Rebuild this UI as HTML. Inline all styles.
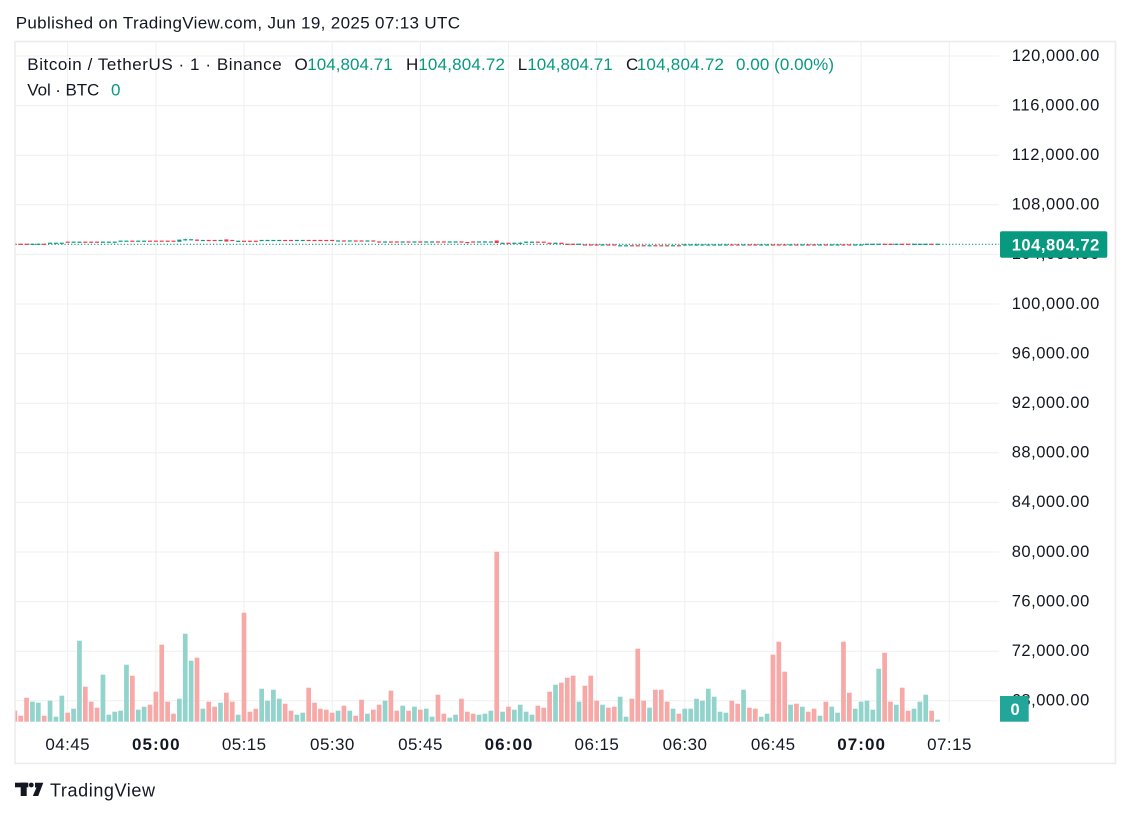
<!DOCTYPE html>
<html><head><meta charset="utf-8"><style>
html,body{margin:0;padding:0;background:#fff;}
svg{display:block;}
text{font-family:"Liberation Sans",sans-serif;}
</style></head><body>
<svg width="1131" height="817" viewBox="0 0 1131 817" xmlns="http://www.w3.org/2000/svg">
<defs><clipPath id="plot"><rect x="15.5" y="42" width="983.5" height="680"/></clipPath></defs>
<rect width="1131" height="817" fill="#fff"/>
<text x="15.7" y="28.3" font-size="17" fill="#131722" textLength="444.3">Published on TradingView.com, Jun 19, 2025 07:13 UTC</text>
<rect x="15" y="41.5" width="1100.5" height="722" fill="none" stroke="#ececec" stroke-width="1.6"/>
<g stroke="#efefef" stroke-width="1">
<line x1="15" x2="999" y1="56" y2="56"/><line x1="15" x2="999" y1="105.6" y2="105.6"/><line x1="15" x2="999" y1="155.2" y2="155.2"/><line x1="15" x2="999" y1="204.8" y2="204.8"/><line x1="15" x2="999" y1="254.4" y2="254.4"/><line x1="15" x2="999" y1="304" y2="304"/><line x1="15" x2="999" y1="353.6" y2="353.6"/><line x1="15" x2="999" y1="403.2" y2="403.2"/><line x1="15" x2="999" y1="452.8" y2="452.8"/><line x1="15" x2="999" y1="502.4" y2="502.4"/><line x1="15" x2="999" y1="552" y2="552"/><line x1="15" x2="999" y1="601.6" y2="601.6"/><line x1="15" x2="999" y1="651.2" y2="651.2"/><line x1="15" x2="999" y1="700.8" y2="700.8"/>
<line x1="67.7" x2="67.7" y1="42" y2="722"/><line x1="155.86" x2="155.86" y1="42" y2="722"/><line x1="244.02" x2="244.02" y1="42" y2="722"/><line x1="332.18" x2="332.18" y1="42" y2="722"/><line x1="420.34" x2="420.34" y1="42" y2="722"/><line x1="508.5" x2="508.5" y1="42" y2="722"/><line x1="596.66" x2="596.66" y1="42" y2="722"/><line x1="684.82" x2="684.82" y1="42" y2="722"/><line x1="772.98" x2="772.98" y1="42" y2="722"/><line x1="861.14" x2="861.14" y1="42" y2="722"/><line x1="949.3" x2="949.3" y1="42" y2="722"/>
</g>
<g clip-path="url(#plot)">
<g transform="translate(8.93,721.7) scale(5.877,-1)">
<g fill="#92d3cc">
<rect x="3.6" width="0.8" height="20"/><rect x="4.6" width="0.8" height="19"/><rect x="6.6" width="0.8" height="21"/><rect x="7.6" width="0.8" height="5"/><rect x="8.6" width="0.8" height="26"/><rect x="10.6" width="0.8" height="13"/><rect x="11.6" width="0.8" height="81"/><rect x="15.6" width="0.8" height="47"/><rect x="16.6" width="0.8" height="7"/><rect x="17.6" width="0.8" height="10"/><rect x="18.6" width="0.8" height="11"/><rect x="19.6" width="0.8" height="57"/><rect x="21.6" width="0.8" height="12"/><rect x="22.6" width="0.8" height="15"/><rect x="28.6" width="0.8" height="23"/><rect x="29.6" width="0.8" height="88"/><rect x="30.6" width="0.8" height="61"/><rect x="32.6" width="0.8" height="13"/><rect x="35.6" width="0.8" height="19"/><rect x="38.6" width="0.8" height="7"/><rect x="42.6" width="0.8" height="33"/><rect x="43.6" width="0.8" height="21"/><rect x="44.6" width="0.8" height="32"/><rect x="45.6" width="0.8" height="23"/><rect x="48.6" width="0.8" height="7"/><rect x="49.6" width="0.8" height="9"/><rect x="55.6" width="0.8" height="11"/><rect x="57.6" width="0.8" height="11"/><rect x="60.6" width="0.8" height="8"/><rect x="63.6" width="0.8" height="21"/><rect x="66.6" width="0.8" height="16"/><rect x="68.6" width="0.8" height="15"/><rect x="70.6" width="0.8" height="13"/><rect x="71.6" width="0.8" height="5"/><rect x="74.6" width="0.8" height="4"/><rect x="75.6" width="0.8" height="7"/><rect x="79.6" width="0.8" height="7"/><rect x="80.6" width="0.8" height="8"/><rect x="81.6" width="0.8" height="11"/><rect x="83.6" width="0.8" height="10"/><rect x="85.6" width="0.8" height="12"/><rect x="86.6" width="0.8" height="17"/><rect x="87.6" width="0.8" height="10"/><rect x="88.6" width="0.8" height="7"/><rect x="92.6" width="0.8" height="37"/><rect x="96.6" width="0.8" height="20"/><rect x="100.6" width="0.8" height="17"/><rect x="103.6" width="0.8" height="25"/><rect x="104.6" width="0.8" height="5"/><rect x="108.6" width="0.8" height="14"/><rect x="112.6" width="0.8" height="13"/><rect x="114.6" width="0.8" height="13"/><rect x="115.6" width="0.8" height="13"/><rect x="116.6" width="0.8" height="23"/><rect x="117.6" width="0.8" height="21"/><rect x="118.6" width="0.8" height="33"/><rect x="119.6" width="0.8" height="25"/><rect x="120.6" width="0.8" height="10"/><rect x="121.6" width="0.8" height="9"/><rect x="124.6" width="0.8" height="32"/><rect x="127.6" width="0.8" height="5"/><rect x="128.6" width="0.8" height="8"/><rect x="132.6" width="0.8" height="17"/><rect x="134.6" width="0.8" height="15"/><rect x="137.6" width="0.8" height="6"/><rect x="139.6" width="0.8" height="15"/><rect x="140.6" width="0.8" height="9"/><rect x="143.6" width="0.8" height="13"/><rect x="144.6" width="0.8" height="20"/><rect x="145.6" width="0.8" height="21"/><rect x="146.6" width="0.8" height="12"/><rect x="147.6" width="0.8" height="53"/><rect x="150.6" width="0.8" height="17"/><rect x="153.6" width="0.8" height="13"/><rect x="154.6" width="0.8" height="20"/><rect x="155.6" width="0.8" height="27"/><rect x="157.6" width="0.8" height="2"/>
</g>
<g fill="#f7a9a7">
<rect x="0.6" width="0.8" height="11"/><rect x="1.6" width="0.8" height="6"/><rect x="2.6" width="0.8" height="24"/><rect x="5.6" width="0.8" height="6"/><rect x="9.6" width="0.8" height="9"/><rect x="12.6" width="0.8" height="35"/><rect x="13.6" width="0.8" height="20"/><rect x="14.6" width="0.8" height="14"/><rect x="20.6" width="0.8" height="46"/><rect x="23.6" width="0.8" height="17"/><rect x="24.6" width="0.8" height="30"/><rect x="25.6" width="0.8" height="77"/><rect x="26.6" width="0.8" height="20"/><rect x="27.6" width="0.8" height="8"/><rect x="31.6" width="0.8" height="64"/><rect x="33.6" width="0.8" height="20"/><rect x="34.6" width="0.8" height="15"/><rect x="36.6" width="0.8" height="29"/><rect x="37.6" width="0.8" height="20"/><rect x="39.6" width="0.8" height="109"/><rect x="40.6" width="0.8" height="10"/><rect x="41.6" width="0.8" height="13"/><rect x="46.6" width="0.8" height="18"/><rect x="47.6" width="0.8" height="11"/><rect x="50.6" width="0.8" height="34"/><rect x="51.6" width="0.8" height="19"/><rect x="52.6" width="0.8" height="13"/><rect x="53.6" width="0.8" height="12"/><rect x="54.6" width="0.8" height="9"/><rect x="56.6" width="0.8" height="16"/><rect x="58.6" width="0.8" height="6"/><rect x="59.6" width="0.8" height="22"/><rect x="61.6" width="0.8" height="12"/><rect x="62.6" width="0.8" height="17"/><rect x="64.6" width="0.8" height="31"/><rect x="65.6" width="0.8" height="11"/><rect x="67.6" width="0.8" height="11"/><rect x="69.6" width="0.8" height="12"/><rect x="72.6" width="0.8" height="27"/><rect x="73.6" width="0.8" height="8"/><rect x="76.6" width="0.8" height="23"/><rect x="77.6" width="0.8" height="10"/><rect x="78.6" width="0.8" height="8"/><rect x="82.6" width="0.8" height="170"/><rect x="84.6" width="0.8" height="15"/><rect x="89.6" width="0.8" height="16"/><rect x="90.6" width="0.8" height="14"/><rect x="91.6" width="0.8" height="30"/><rect x="93.6" width="0.8" height="39"/><rect x="94.6" width="0.8" height="44"/><rect x="95.6" width="0.8" height="46"/><rect x="97.6" width="0.8" height="36"/><rect x="98.6" width="0.8" height="46"/><rect x="99.6" width="0.8" height="21"/><rect x="101.6" width="0.8" height="14"/><rect x="102.6" width="0.8" height="15"/><rect x="105.6" width="0.8" height="23"/><rect x="106.6" width="0.8" height="73"/><rect x="107.6" width="0.8" height="21"/><rect x="109.6" width="0.8" height="32"/><rect x="110.6" width="0.8" height="32"/><rect x="111.6" width="0.8" height="20"/><rect x="113.6" width="0.8" height="8"/><rect x="122.6" width="0.8" height="21"/><rect x="123.6" width="0.8" height="18"/><rect x="125.6" width="0.8" height="14"/><rect x="126.6" width="0.8" height="13"/><rect x="129.6" width="0.8" height="67"/><rect x="130.6" width="0.8" height="80"/><rect x="131.6" width="0.8" height="50"/><rect x="133.6" width="0.8" height="18"/><rect x="135.6" width="0.8" height="10"/><rect x="136.6" width="0.8" height="13"/><rect x="138.6" width="0.8" height="20"/><rect x="141.6" width="0.8" height="80"/><rect x="142.6" width="0.8" height="29"/><rect x="148.6" width="0.8" height="69"/><rect x="149.6" width="0.8" height="20"/><rect x="151.6" width="0.8" height="34"/><rect x="152.6" width="0.8" height="11"/><rect x="156.6" width="0.8" height="11"/>
</g>
</g>
<line x1="15" x2="999" y1="244.3" y2="244.3" stroke="#089981" stroke-width="1.2" stroke-dasharray="1.2 2.1"/>
<g transform="translate(8.93,0) scale(5.877,1)">
<g fill="#089981">
<rect x="3.66" y="243.7" width="0.68" height="1.2"/><rect x="4.66" y="243.7" width="0.68" height="1.2"/><rect x="6.66" y="242.7" width="0.68" height="1.2"/><rect x="7.66" y="242.7" width="0.68" height="1.2"/><rect x="8.66" y="242.7" width="0.68" height="1.2"/><rect x="10.66" y="241.6" width="0.68" height="1.2"/><rect x="11.66" y="241.6" width="0.68" height="1.2"/><rect x="15.66" y="241.6" width="0.68" height="1.2"/><rect x="16.66" y="241.6" width="0.68" height="1.2"/><rect x="17.66" y="241.6" width="0.68" height="1.2"/><rect x="18.66" y="240.6" width="0.68" height="1.2"/><rect x="19.66" y="240.6" width="0.68" height="1.2"/><rect x="21.66" y="240.6" width="0.68" height="1.2"/><rect x="22.66" y="240.6" width="0.68" height="1.2"/><rect x="28.66" y="239.6" width="0.68" height="2.2"/><rect x="29.66" y="239.2" width="0.68" height="1.2"/><rect x="29.97" y="238.2" width="0.06" height="3"/><rect x="30.66" y="239.2" width="0.68" height="1.2"/><rect x="32.66" y="239.9" width="0.68" height="1.2"/><rect x="35.66" y="239.9" width="0.68" height="1.2"/><rect x="38.66" y="240.7" width="0.68" height="1.2"/><rect x="42.66" y="239.9" width="0.68" height="1.2"/><rect x="43.66" y="239.9" width="0.68" height="1.2"/><rect x="44.66" y="239.9" width="0.68" height="1.2"/><rect x="45.66" y="239.9" width="0.68" height="1.2"/><rect x="48.66" y="239.9" width="0.68" height="1.2"/><rect x="49.66" y="239.9" width="0.68" height="1.2"/><rect x="55.66" y="240.4" width="0.68" height="1.2"/><rect x="57.66" y="240.4" width="0.68" height="1.2"/><rect x="60.66" y="240.4" width="0.68" height="1.2"/><rect x="63.66" y="241.4" width="0.68" height="1.2"/><rect x="66.66" y="241.4" width="0.68" height="1.2"/><rect x="68.66" y="241.4" width="0.68" height="1.2"/><rect x="70.66" y="241.4" width="0.68" height="1.2"/><rect x="71.66" y="241.4" width="0.68" height="1.2"/><rect x="74.66" y="241.4" width="0.68" height="1.2"/><rect x="75.66" y="241.4" width="0.68" height="1.2"/><rect x="79.66" y="241.4" width="0.68" height="1.2"/><rect x="80.66" y="241.4" width="0.68" height="1.2"/><rect x="81.66" y="241.4" width="0.68" height="1.2"/><rect x="83.66" y="242.7" width="0.68" height="1.2"/><rect x="85.66" y="242.7" width="0.68" height="1.2"/><rect x="86.66" y="242.7" width="0.68" height="1.2"/><rect x="86.97" y="241.5" width="0.06" height="2.6"/><rect x="87.66" y="241.6" width="0.68" height="1.2"/><rect x="88.66" y="241.6" width="0.68" height="1.2"/><rect x="92.66" y="242.7" width="0.68" height="1.2"/><rect x="96.66" y="243.7" width="0.68" height="1.2"/><rect x="100.66" y="244.4" width="0.68" height="1.2"/><rect x="103.66" y="245.2" width="0.68" height="1.2"/><rect x="104.66" y="245.2" width="0.68" height="1.2"/><rect x="108.66" y="245.2" width="0.68" height="1.2"/><rect x="112.66" y="245.2" width="0.68" height="1.2"/><rect x="114.66" y="244.4" width="0.68" height="1.2"/><rect x="114.97" y="243.4" width="0.06" height="2.6"/><rect x="115.66" y="244.4" width="0.68" height="1.2"/><rect x="116.66" y="244.4" width="0.68" height="1.2"/><rect x="116.97" y="243.4" width="0.06" height="2.6"/><rect x="117.66" y="244.4" width="0.68" height="1.2"/><rect x="118.66" y="244.4" width="0.68" height="1.2"/><rect x="119.66" y="244.4" width="0.68" height="1.2"/><rect x="120.66" y="244.4" width="0.68" height="1.2"/><rect x="121.66" y="244.4" width="0.68" height="1.2"/><rect x="124.66" y="244.4" width="0.68" height="1.2"/><rect x="127.66" y="244.4" width="0.68" height="1.2"/><rect x="128.66" y="244.4" width="0.68" height="1.2"/><rect x="132.66" y="244.4" width="0.68" height="1.2"/><rect x="134.66" y="244.4" width="0.68" height="1.2"/><rect x="137.66" y="244.4" width="0.68" height="1.2"/><rect x="139.66" y="244.4" width="0.68" height="1.2"/><rect x="140.66" y="244.4" width="0.68" height="1.2"/><rect x="143.66" y="244.4" width="0.68" height="1.2"/><rect x="144.66" y="244.4" width="0.68" height="1.2"/><rect x="145.66" y="243.7" width="0.68" height="1.2"/><rect x="146.66" y="243.7" width="0.68" height="1.2"/><rect x="147.66" y="243.7" width="0.68" height="1.2"/><rect x="150.66" y="243.7" width="0.68" height="1.2"/><rect x="153.66" y="243.7" width="0.68" height="1.2"/><rect x="154.66" y="243.7" width="0.68" height="1.2"/><rect x="155.66" y="243.7" width="0.68" height="1.2"/><rect x="157.66" y="243.7" width="0.68" height="1.2"/>
</g>
<g fill="#f23645">
<rect x="0.66" y="243.7" width="0.68" height="1.2"/><rect x="1.66" y="243.7" width="0.68" height="1.2"/><rect x="2.66" y="243.7" width="0.68" height="1.2"/><rect x="5.66" y="243.7" width="0.68" height="1.2"/><rect x="9.66" y="241.6" width="0.68" height="1.2"/><rect x="12.66" y="241.6" width="0.68" height="1.2"/><rect x="13.66" y="241.6" width="0.68" height="1.2"/><rect x="14.66" y="241.6" width="0.68" height="1.2"/><rect x="20.66" y="240.6" width="0.68" height="1.2"/><rect x="23.66" y="240.6" width="0.68" height="1.2"/><rect x="24.66" y="240.6" width="0.68" height="1.2"/><rect x="25.66" y="240.6" width="0.68" height="1.2"/><rect x="26.66" y="240.6" width="0.68" height="1.2"/><rect x="27.66" y="240.6" width="0.68" height="1.2"/><rect x="31.66" y="239.6" width="0.68" height="1.2"/><rect x="31.97" y="238.6" width="0.06" height="2.6"/><rect x="33.66" y="239.9" width="0.68" height="1.2"/><rect x="34.66" y="239.9" width="0.68" height="1.2"/><rect x="36.66" y="239.4" width="0.68" height="2.2"/><rect x="37.66" y="239.9" width="0.68" height="1.2"/><rect x="39.66" y="240.7" width="0.68" height="1.2"/><rect x="40.66" y="240.7" width="0.68" height="1.2"/><rect x="41.66" y="240.7" width="0.68" height="1.2"/><rect x="46.66" y="239.9" width="0.68" height="1.2"/><rect x="47.66" y="239.9" width="0.68" height="1.2"/><rect x="50.66" y="239.9" width="0.68" height="1.2"/><rect x="51.66" y="239.9" width="0.68" height="1.2"/><rect x="52.66" y="239.9" width="0.68" height="1.2"/><rect x="53.66" y="239.9" width="0.68" height="1.2"/><rect x="54.66" y="239.9" width="0.68" height="1.2"/><rect x="56.66" y="240.4" width="0.68" height="1.2"/><rect x="58.66" y="240.4" width="0.68" height="1.2"/><rect x="59.66" y="240.4" width="0.68" height="1.2"/><rect x="61.66" y="240.4" width="0.68" height="1.2"/><rect x="62.66" y="241.4" width="0.68" height="1.2"/><rect x="64.66" y="241.4" width="0.68" height="1.2"/><rect x="65.66" y="241.4" width="0.68" height="1.2"/><rect x="67.66" y="241.4" width="0.68" height="1.2"/><rect x="69.66" y="241.4" width="0.68" height="1.2"/><rect x="72.66" y="241.4" width="0.68" height="1.2"/><rect x="73.66" y="241.4" width="0.68" height="1.2"/><rect x="76.66" y="241.4" width="0.68" height="1.2"/><rect x="77.66" y="242.0" width="0.68" height="1.2"/><rect x="78.66" y="241.4" width="0.68" height="1.2"/><rect x="82.66" y="240.5" width="0.68" height="2.5"/><rect x="84.66" y="242.7" width="0.68" height="1.2"/><rect x="89.66" y="241.6" width="0.68" height="1.2"/><rect x="90.66" y="241.6" width="0.68" height="1.2"/><rect x="91.66" y="242.7" width="0.68" height="1.2"/><rect x="93.66" y="242.7" width="0.68" height="1.2"/><rect x="94.66" y="243.7" width="0.68" height="1.2"/><rect x="95.66" y="243.7" width="0.68" height="1.2"/><rect x="97.66" y="244.4" width="0.68" height="1.2"/><rect x="98.66" y="244.4" width="0.68" height="1.2"/><rect x="99.66" y="244.4" width="0.68" height="1.2"/><rect x="101.66" y="244.4" width="0.68" height="1.2"/><rect x="102.66" y="244.4" width="0.68" height="1.2"/><rect x="105.66" y="245.2" width="0.68" height="1.2"/><rect x="106.66" y="245.2" width="0.68" height="1.2"/><rect x="107.66" y="245.2" width="0.68" height="1.2"/><rect x="109.66" y="245.2" width="0.68" height="1.2"/><rect x="110.66" y="245.2" width="0.68" height="1.2"/><rect x="111.66" y="245.2" width="0.68" height="1.2"/><rect x="113.66" y="245.2" width="0.68" height="1.2"/><rect x="122.66" y="244.4" width="0.68" height="1.2"/><rect x="123.66" y="244.4" width="0.68" height="1.2"/><rect x="125.66" y="244.4" width="0.68" height="1.2"/><rect x="126.66" y="244.4" width="0.68" height="1.2"/><rect x="129.66" y="244.4" width="0.68" height="1.2"/><rect x="130.66" y="244.4" width="0.68" height="1.2"/><rect x="131.66" y="244.4" width="0.68" height="1.2"/><rect x="133.66" y="244.4" width="0.68" height="1.2"/><rect x="135.66" y="244.4" width="0.68" height="1.2"/><rect x="136.66" y="244.4" width="0.68" height="1.2"/><rect x="138.66" y="244.4" width="0.68" height="1.2"/><rect x="141.66" y="244.4" width="0.68" height="1.2"/><rect x="142.66" y="244.4" width="0.68" height="1.2"/><rect x="148.66" y="243.7" width="0.68" height="1.2"/><rect x="149.66" y="243.7" width="0.68" height="1.2"/><rect x="151.66" y="243.7" width="0.68" height="1.2"/><rect x="152.66" y="243.7" width="0.68" height="1.2"/><rect x="156.66" y="243.7" width="0.68" height="1.2"/>
</g>
</g>
</g>
<g font-size="17" fill="#131722">
<text x="27.3" y="70" textLength="254.4">Bitcoin / TetherUS · 1 · Binance</text>
<text x="294.5" y="70" textLength="12.5">O</text>
<text x="406" y="70" textLength="11">H</text>
<text x="517.7" y="70" textLength="9">L</text>
<text x="626" y="70" textLength="10.5">C</text>
<text x="27.3" y="95.7" textLength="72">Vol · BTC</text>
</g>
<g font-size="17" fill="#089981">
<text x="307.3" y="70" textLength="85.4">104,804.71</text>
<text x="418.3" y="70" textLength="86.7">104,804.72</text>
<text x="527.3" y="70" textLength="85.4">104,804.71</text>
<text x="636.7" y="70" textLength="87.3">104,804.72</text>
<text x="736" y="70" textLength="98">0.00 (0.00%)</text>
<text x="111" y="95.7" textLength="9.5">0</text>
</g>
<g font-size="16.5" fill="#131722">
<text x="1011.7" y="60.8" textLength="87.6">120,000.00</text>
<text x="1011.7" y="110.4" textLength="87.6">116,000.00</text>
<text x="1011.7" y="160" textLength="87.6">112,000.00</text>
<text x="1011.7" y="209.6" textLength="87.6">108,000.00</text>
<text x="1011.7" y="259.2" textLength="87.6">104,000.00</text>
<text x="1011.7" y="308.8" textLength="87.6">100,000.00</text>
<text x="1011.7" y="358.4" textLength="77.6">96,000.00</text>
<text x="1011.7" y="408" textLength="77.6">92,000.00</text>
<text x="1011.7" y="457.6" textLength="77.6">88,000.00</text>
<text x="1011.7" y="507.2" textLength="77.6">84,000.00</text>
<text x="1011.7" y="556.8" textLength="77.6">80,000.00</text>
<text x="1011.7" y="606.4" textLength="77.6">76,000.00</text>
<text x="1011.7" y="656" textLength="77.6">72,000.00</text>
<text x="1011.7" y="705.6" textLength="77.6">68,000.00</text>
</g>
<rect x="1000" y="231.3" width="107.3" height="26.4" rx="2" fill="#089981"/>
<text x="1011.7" y="250.3" font-size="16.5" font-weight="bold" fill="#fff" textLength="87.6">104,804.72</text>
<rect x="1000" y="696" width="28.7" height="25.7" fill="#22a699"/>
<text x="1010.5" y="715" font-size="16.5" font-weight="bold" fill="#fff" textLength="9.5">0</text>
<g font-size="17" fill="#131722" text-anchor="middle">
<text x="67.5" y="750" textLength="44.3">04:45</text>
<text x="155.8" y="750" font-weight="bold" textLength="47.7">05:00</text>
<text x="244" y="750" textLength="44.3">05:15</text>
<text x="332.2" y="750" textLength="44.3">05:30</text>
<text x="420.3" y="750" textLength="44.3">05:45</text>
<text x="508.5" y="750" font-weight="bold" textLength="47.7">06:00</text>
<text x="596.7" y="750" textLength="44.3">06:15</text>
<text x="684.8" y="750" textLength="44.3">06:30</text>
<text x="773" y="750" textLength="44.3">06:45</text>
<text x="861.1" y="750" font-weight="bold" textLength="47.7">07:00</text>
<text x="949.3" y="750" textLength="44.3">07:15</text>
</g>
<g fill="#131722">
<rect x="15" y="782.7" width="13.3" height="4.6"/>
<rect x="20.7" y="782.7" width="6" height="13.3"/>
<circle cx="31.3" cy="785" r="2.4"/>
<polygon points="35,782.7 43.3,782.7 38.2,796 32.8,796 36.5,787.5 35,787.5"/>
</g>
<text x="50" y="796.7" font-size="18" fill="#131722" textLength="105">TradingView</text>
</svg>
</body></html>
